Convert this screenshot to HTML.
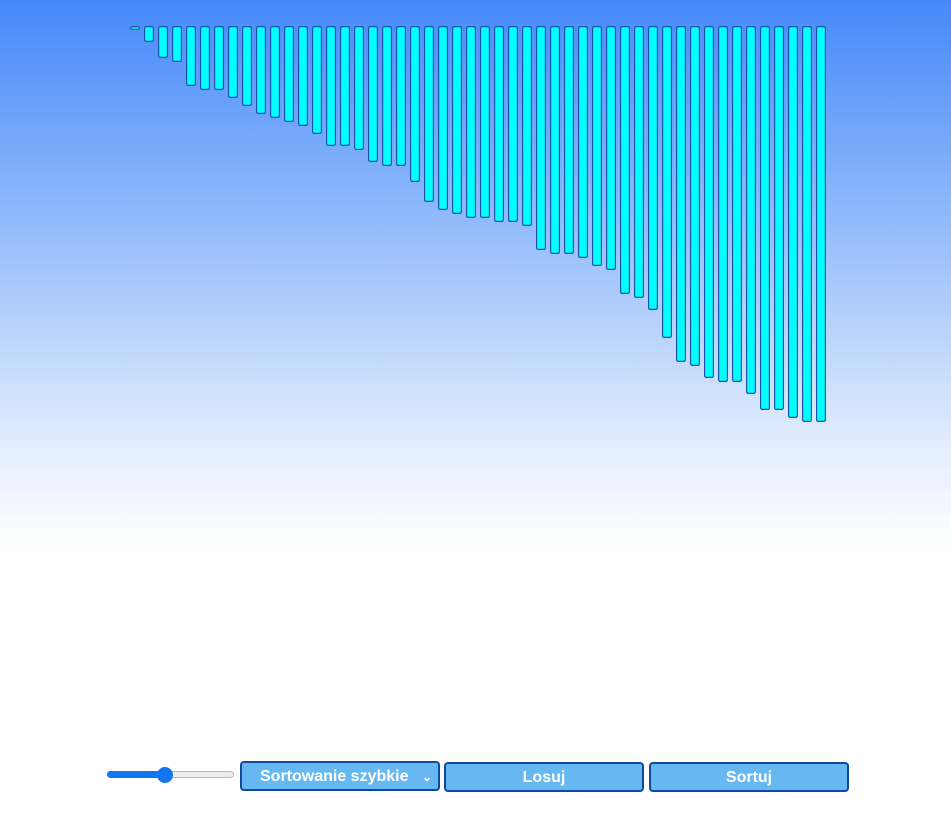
<!DOCTYPE html>
<html><head><meta charset="utf-8"><style>
body{margin:0;width:951px;height:825px;overflow:hidden;background:linear-gradient(#4589f9 0px,#9cc1fb 250px,#e4eefd 450px,#fff 550px,#fff);font-family:"Liberation Sans",sans-serif;position:relative}
#chart{position:absolute;left:0;top:0}
.ctl{position:absolute;box-sizing:border-box;background:#67b8f0;border:2px solid #0d4a9c;border-radius:4px;color:#fff;font-weight:bold;font-size:16px;text-align:center;line-height:28px}
</style></head><body>
<svg id="chart" width="951" height="560"></svg>
<div style="position:absolute;left:107px;top:771px;width:127px;height:8px;">
 <div style="position:absolute;left:0;top:0;width:127px;height:7px;border-radius:4px;background:#eee;border:1px solid #bbb;box-sizing:border-box"></div>
 <div style="position:absolute;left:0;top:0;width:60px;height:7px;border-radius:4px;background:#1276f0"></div>
 <div style="position:absolute;left:50px;top:-4px;width:16px;height:16px;border-radius:50%;background:#1276f0"></div>
</div>
<div class="ctl" style="left:240px;top:761px;width:200px;height:30px;text-align:left;padding-left:18px">Sortowanie szybkie<span style="position:absolute;right:6px;top:0;font-size:12px">&#8964;</span></div>
<div class="ctl" style="left:444px;top:762px;width:200px;height:30px">Losuj</div>
<div class="ctl" style="left:649px;top:762px;width:200px;height:30px">Sortuj</div>
<script>
const barValues=[3,15,31,35,59,63,63,71,79,87,91,95,99,107,119,119,123,135,139,139,155,175,183,187,191,191,195,195,199,223,227,227,231,239,243,267,271,283,311,335,339,351,355,355,367,383,383,391,395,395];
const svg=document.getElementById('chart');
const x0=130,step=14,bw=10,top0=26;
function xPos(i){return x0+i*step;}
function hPx(v){return v+1;}
barValues.forEach((v,i)=>{
 const r=document.createElementNS('http://www.w3.org/2000/svg','rect');
 r.setAttribute('x',xPos(i)+0.6);r.setAttribute('y',top0+0.6);
 r.setAttribute('width',bw-1.2);r.setAttribute('height',Math.max(hPx(v)-1.2,1.5));
 r.setAttribute('rx',1.5);r.setAttribute('fill','#00ffff');r.setAttribute('stroke','#1a55a8');r.setAttribute('stroke-width','1.2');
 
 
 svg.appendChild(r);
});
</script>
</body></html>
